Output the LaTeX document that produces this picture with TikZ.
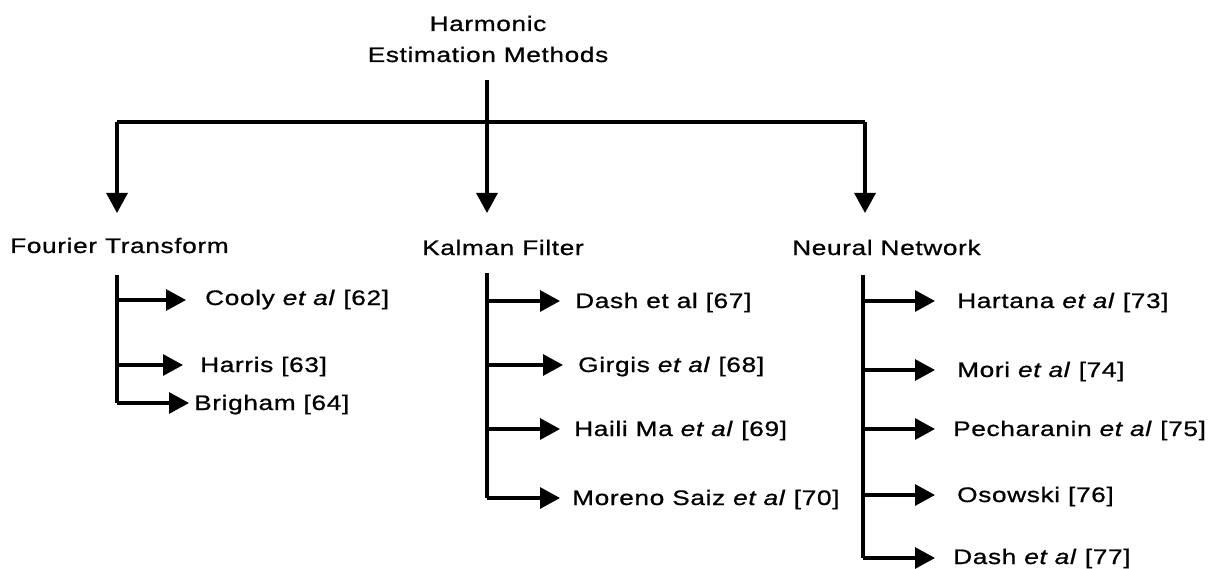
\documentclass[tikz,border=0pt]{standalone}
\usepackage{fontspec}
\setmainfont[FakeStretch=1.25,LetterSpace=3,FakeBold=0.8]{Liberation Sans}
\usetikzlibrary{arrows.meta}
\tikzset{
  conn/.style={line width=3.1pt},
  arr/.style={line width=3.1pt,-{Triangle[length=20pt,width=21pt]}},
  lbl/.style={anchor=base west,inner sep=0pt,font=\fontsize{21}{25}\selectfont},
}
\begin{document}
\begin{tikzpicture}[x=1pt,y=-1pt]
\useasboundingbox (0,0) rectangle (1217,569);
% title
\node[anchor=base,inner sep=0pt,align=center,font=\fontsize{21}{31}\selectfont] (title) at (488,62) {Harmonic\\Estimation Methods};
\coordinate (top) at (487,80);
\coordinate (hl) at (117,122);
\coordinate (hr) at (865,122);
\coordinate (ftA) at (117,213);
\coordinate (kfA) at (487,213);
\coordinate (nnA) at (865,213);
\draw[conn] (hl) -- (hr);
\draw[arr] (top) -- (kfA);
\draw[arr] (hl) -- (ftA);
\draw[arr] (hr) -- (nnA);
% category labels
\node[lbl] (ft) at (10,253) {Fourier Transform};
\node[lbl] (kf) at (422,255) {Kalman Filter};
\node[lbl] (nn) at (792,255) {Neural Network};
% Fourier group
\coordinate (ft0) at (117,275);
\coordinate (ft1) at (117,300);
\coordinate (ft2) at (117,365);
\coordinate (ft3) at (117,403);
\coordinate (ft1e) at (186,300);
\coordinate (ft2e) at (183,365);
\coordinate (ft3e) at (189,403);
\node[lbl] (c62) at (205,305) {Cooly \textit{et al} [62]};
\node[lbl] (c63) at (200,372) {Harris [63]};
\node[lbl] (c64) at (194,410) {Brigham [64]};
\draw[conn] (ft0) -- (ft3);
\draw[arr] (ft1) -- (ft1e);
\draw[arr] (ft2) -- (ft2e);
\draw[arr] (ft3) -- (ft3e);
% Kalman group
\coordinate (kf0) at (487,273);
\coordinate (kf1) at (487,301);
\coordinate (kf2) at (487,365);
\coordinate (kf3) at (487,429);
\coordinate (kf4) at (487,498);
\node[lbl] (c67) at (575,308) {Dash et al [67]};
\node[lbl] (c68) at (578,372) {Girgis \textit{et al} [68]};
\node[lbl] (c69) at (574,436) {Haili Ma \textit{et al} [69]};
\node[lbl] (c70) at (572,505) {Moreno Saiz \textit{et al} [70]};
\draw[conn] (kf0) -- (kf4);
\draw[arr] (kf1) -- (kf1 -| 560,0);
\draw[arr] (kf2) -- (kf2 -| 563,0);
\draw[arr] (kf3) -- (kf3 -| 560,0);
\draw[arr] (kf4) -- (kf4 -| 560,0);
% Neural group
\coordinate (nn0) at (863,275);
\coordinate (nn1) at (863,301);
\coordinate (nn2) at (863,370);
\coordinate (nn3) at (863,429);
\coordinate (nn4) at (863,495);
\coordinate (nn5) at (863,558);
\node[lbl] (c73) at (957,308) {Hartana \textit{et al} [73]};
\node[lbl] (c74) at (957,377) {Mori \textit{et al} [74]};
\node[lbl] (c75) at (953,436) {Pecharanin \textit{et al} [75]};
\node[lbl] (c76) at (957,502) {Osowski [76]};
\node[lbl] (c77) at (953,564) {Dash \textit{et al} [77]};
\draw[conn] (nn0) -- (nn5);
\draw[arr] (nn1) -- (nn1 -| 935,0);
\draw[arr] (nn2) -- (nn2 -| 935,0);
\draw[arr] (nn3) -- (nn3 -| 935,0);
\draw[arr] (nn4) -- (nn4 -| 935,0);
\draw[arr] (nn5) -- (nn5 -| 935,0);
\end{tikzpicture}
\end{document}
